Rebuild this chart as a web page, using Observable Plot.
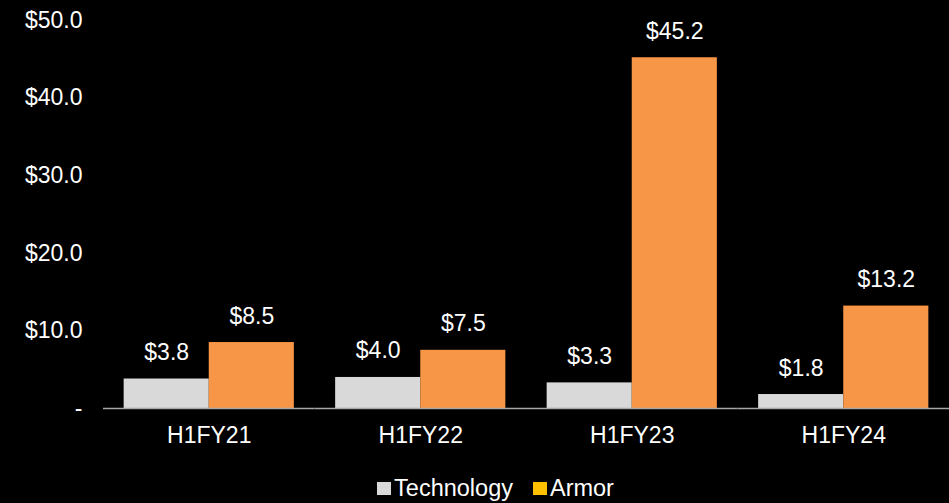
<!DOCTYPE html>
<html>
<head>
<meta charset="utf-8">
<script src="https://cdn.jsdelivr.net/npm/d3@7"></script>
<script src="https://cdn.jsdelivr.net/npm/@observablehq/plot@0.6"></script>
<style>
  html, body { margin: 0; padding: 0; background: #000; }
  body { width: 949px; height: 503px; overflow: hidden; font-family: "Liberation Sans", Arial, sans-serif; }
  #legend { box-sizing: border-box; display: flex; justify-content: center; align-items: center; padding-left: 42px; padding-top: 14px; height: 43px; color: #fff; font-size: 23.5px; line-height: 1; }
  .item { display: flex; align-items: center; margin: 0 10px; }
  .sw { width: 14px; height: 13px; margin-right: 3px; }
</style>
</head>
<body>
<div id="chart"></div>
<div id="legend"></div>
<script>
const periods = ["H1FY21", "H1FY22", "H1FY23", "H1FY24"];
const series = ["Technology", "Armor"];
const technology = [3.8, 4.0, 3.3, 1.8];
const armor = [8.5, 7.5, 45.2, 13.2];
const yTicks = [0, 10, 20, 30, 40, 50];
const barColors = ["#D9D9D9", "#F79646"];
const legendColors = ["#D9D9D9", "#FFC000"];

const data = [];
periods.forEach((p, i) => {
  data.push({period: p, series: "Technology", value: technology[i]});
  data.push({period: p, series: "Armor", value: armor[i]});
});

const fmt = v => "$" + v.toFixed(1);

const chart = Plot.plot({
  width: 949,
  height: 460,
  marginLeft: 103,
  marginRight: 0,
  marginTop: 20,
  marginBottom: 52,
  style: {background: "#000", color: "#fff", fontFamily: "'Liberation Sans', Arial, sans-serif", fontSize: "23px"},
  fx: {domain: periods, padding: 0, round: false, label: null, axis: "bottom", tickSize: 0, tickPadding: 18},
  x: {domain: series, paddingInner: 0, paddingOuter: 0.2426, round: false, axis: null},
  y: {domain: [0, 50], ticks: yTicks, tickFormat: d => d === 0 ? "-" : fmt(d), tickSize: 0, tickPadding: 21, label: null},
  color: {domain: series, range: barColors},
  marks: [
    Plot.barY(data, {fx: "period", x: "series", y: "value", fill: "series"}),
    Plot.ruleY([0], {stroke: "#a6a6a6", strokeWidth: 1.5}),
    Plot.text(data, {fx: "period", x: "series", y: "value", text: d => fmt(d.value), lineAnchor: "bottom", dy: -19, fill: "#fff", fontSize: 23})
  ]
});
document.getElementById("chart").appendChild(chart);

const legend = document.getElementById("legend");
series.forEach((s, i) => {
  const item = document.createElement("div");
  item.className = "item";
  const sw = document.createElement("span");
  sw.className = "sw";
  sw.style.background = legendColors[i];
  const t = document.createElement("span");
  t.textContent = s;
  item.appendChild(sw);
  item.appendChild(t);
  legend.appendChild(item);
});
</script>
</body>
</html>
